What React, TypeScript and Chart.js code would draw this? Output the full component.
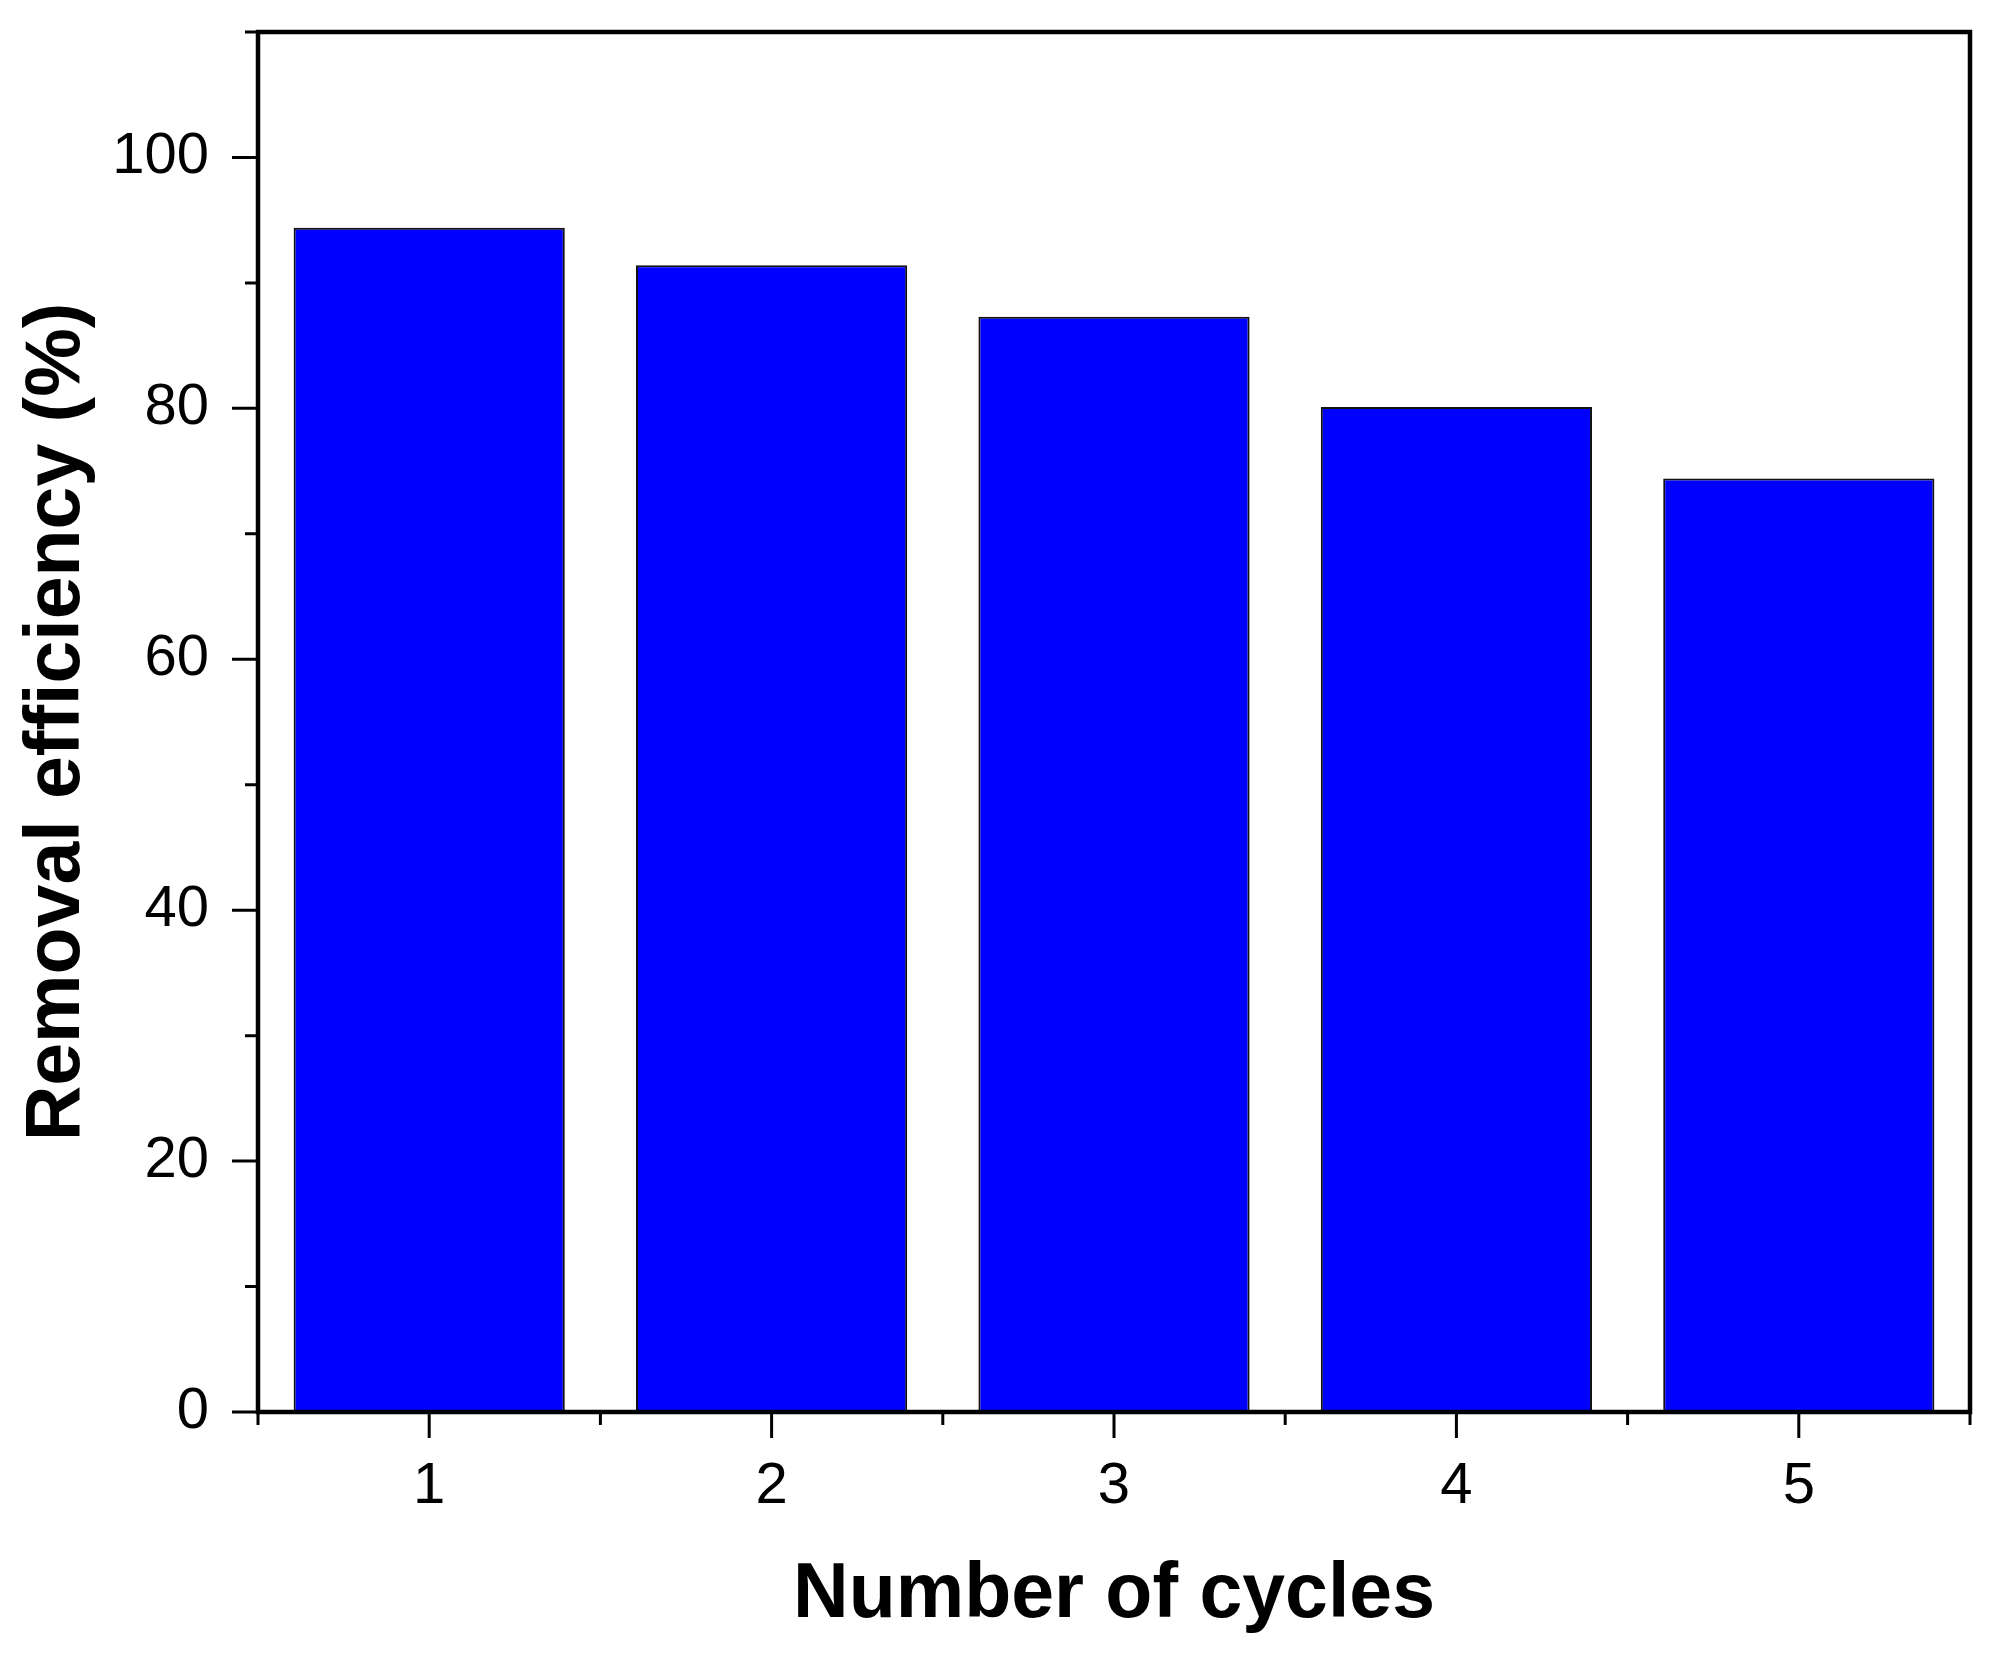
import React, { useEffect, useRef } from "react";
import { Chart, registerables } from "chart.js";

Chart.register(...registerables);

const CYCLES = ["1", "2", "3", "4", "5"];
const REMOVAL_EFFICIENCY = [94.4, 91.4, 87.3, 80.1, 74.4];
const Y_MAJOR_TICKS = [0, 20, 40, 60, 80, 100];
const Y_MINOR_TICKS = [10, 30, 50, 70, 90, 110];
const Y_MIN = 0;
const Y_MAX = 110;

const W = 2016;
const H = 1659;

const framePlugin = {
  id: "originFrame",
  afterDatasetsDraw(chart: any) {
    const { ctx, chartArea } = chart;
    const x = chart.scales.x;
    const y = chart.scales.y;
    const { left, right, top, bottom } = chartArea;
    ctx.save();
    ctx.strokeStyle = "#000";
    ctx.lineCap = "butt";
    ctx.lineWidth = 3;
    ctx.beginPath();
    Y_MAJOR_TICKS.forEach((v) => {
      const py = y.getPixelForValue(v);
      ctx.moveTo(left - 26, py);
      ctx.lineTo(left, py);
    });
    Y_MINOR_TICKS.forEach((v) => {
      const py = y.getPixelForValue(v);
      ctx.moveTo(left - 13, py);
      ctx.lineTo(left, py);
    });
    CYCLES.forEach((_, i) => {
      const px = x.getPixelForValue(i);
      ctx.moveTo(px, bottom);
      ctx.lineTo(px, bottom + 26);
    });
    for (let i = 0; i <= CYCLES.length; i++) {
      const px = x.getPixelForValue(i - 0.5);
      ctx.moveTo(px, bottom);
      ctx.lineTo(px, bottom + 13);
    }
    ctx.stroke();
    ctx.lineWidth = 4.5;
    ctx.beginPath();
    ctx.moveTo(left, top);
    ctx.lineTo(right, top);
    ctx.lineTo(right, bottom);
    ctx.lineTo(left, bottom);
    ctx.closePath();
    ctx.stroke();
    ctx.restore();
  },
};

export default function App() {
  const ref = useRef<HTMLCanvasElement | null>(null);

  useEffect(() => {
    if (!ref.current) return;
    const chart = new Chart(ref.current, {
      type: "bar",
      data: {
        labels: CYCLES,
        datasets: [
          {
            data: REMOVAL_EFFICIENCY,
            backgroundColor: "#0000FF",
            borderColor: "#111111",
            borderWidth: 2,
            categoryPercentage: 1,
            barPercentage: 0.792,
          },
        ],
      },
      options: {
        animation: false,
        responsive: false,
        devicePixelRatio: 1,
        layout: { padding: { top: 32, right: 46, left: 0, bottom: 0 } },
        plugins: {
          legend: { display: false },
          tooltip: { enabled: false },
        },
        scales: {
          x: {
            type: "category",
            offset: true,
            grid: { display: false },
            border: { display: false },
            ticks: {
              color: "#000",
              padding: 38,
              font: { family: "Liberation Sans", size: 58, lineHeight: 1 },
            },
            title: {
              display: true,
              text: "Number of cycles",
              color: "#000",
              font: { family: "Liberation Sans", size: 77, weight: "bold", lineHeight: 1.2 },
              padding: { top: 0, bottom: 17 },
            },
            afterFit: (scale: any) => {
              scale.height = 247;
              scale.paddingLeft = 0;
              scale.paddingRight = 0;
              scale.paddingTop = 0;
              scale.paddingBottom = 0;
            },
          },
          y: {
            min: Y_MIN,
            max: Y_MAX,
            grid: { display: false },
            border: { display: false },
            afterBuildTicks: (scale: any) => {
              scale.ticks = Y_MAJOR_TICKS.map((v) => ({ value: v }));
            },
            ticks: {
              color: "#000",
              padding: 41,
              font: { family: "Liberation Sans", size: 58, lineHeight: 1 },
            },
            title: {
              display: true,
              text: "Removal efficiency (%)",
              color: "#000",
              font: { family: "Liberation Sans", size: 77, weight: "bold", lineHeight: 1.2 },
              padding: { top: 12, bottom: 0 },
            },
            afterFit: (scale: any) => {
              scale.width = 258;
              scale.paddingLeft = 0;
              scale.paddingRight = 0;
              scale.paddingTop = 0;
              scale.paddingBottom = 0;
            },
          },
        },
      },
      plugins: [framePlugin],
    });
    return () => chart.destroy();
  }, []);

  return (
    <div style={{ position: "fixed", left: 0, top: 0, width: W, height: H, background: "#fff" }}>
      <canvas ref={ref} width={W} height={H} style={{ width: W, height: H, display: "block" }} />
    </div>
  );
}
